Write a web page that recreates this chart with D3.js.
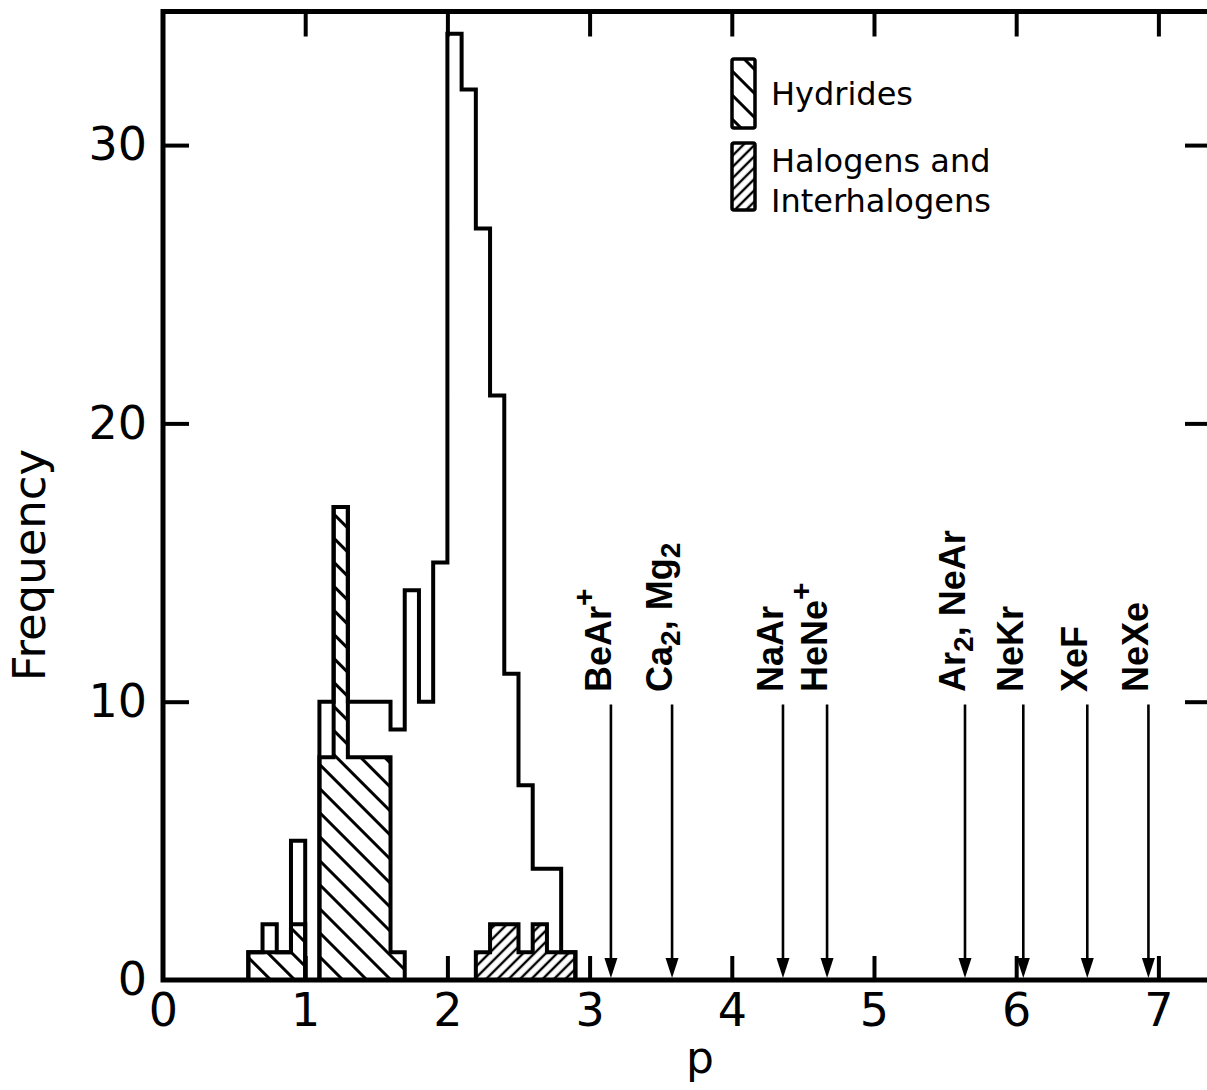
<!DOCTYPE html>
<html>
<head>
<meta charset="utf-8">
<script src="https://cdn.jsdelivr.net/npm/d3@7"></script>
<style>
body { margin: 0; background: #fff; }
</style>
</head>
<body>
<svg id="chart" width="1207" height="1090" viewBox="0 0 1207 1090"></svg>
<script>
// histogram bins (start of each 0.1 wide bin in p)
const binStarts = [0.6, 0.7, 0.8, 0.9, 1.0, 1.1, 1.2, 1.3, 1.4, 1.5, 1.6, 1.7, 1.8, 1.9, 2.0, 2.1, 2.2, 2.3, 2.4, 2.5, 2.6, 2.7, 2.8]
const binWidth = 0.1
const totalCounts   = [1, 2, 1, 5, 0, 10, 17, 10, 10, 10, 9, 14, 10, 15, 34, 32, 27, 21, 11, 7, 4, 4, 1]
const hydrideCounts = [1, 1, 1, 2, 0, 8, 17, 8, 8, 8, 1, 0, 0, 0, 0, 0, 0, 0, 0, 0, 0, 0, 0]
const halogenCounts = [0, 0, 0, 0, 0, 0, 0, 0, 0, 0, 0, 0, 0, 0, 0, 0, 1, 2, 2, 1, 2, 1, 1]

// molecules marked with arrows
const moleculeP = [3.15, 3.58, 4.36, 4.67, 5.64, 6.05, 6.5, 6.93]
const moleculeLabels = [
    [["BeAr", ""], ["+", "sup"]],
    [["Ca", ""], ["2", "sub"], [", Mg", ""], ["2", "sub"]],
    [["NaAr", ""]],
    [["HeNe", ""], ["+", "sup"]],
    [["Ar", ""], ["2", "sub"], [", NeAr", ""]],
    [["NeKr", ""]],
    [["XeF", ""]],
    [["NeXe", ""]]
]

const xTicks = [0, 1, 2, 3, 4, 5, 6, 7]
const yTicks = [0, 10, 20, 30]
const legendNames = ["Hydrides", "Halogens and", "Interhalogens"]

const svg = d3.select("#chart")
const x = d3.scaleLinear().domain([0, 7.37]).range([163, 1211])
const y = d3.scaleLinear().domain([0, 34.8]).range([980, 11.5])

const ink = "#000"
const plainFont = "'DejaVu Sans', sans-serif"
const boldFont = "'Liberation Sans', Arial, sans-serif"

// hatch patterns
const defs = svg.append("defs")
function hatch(id, gap, angle, w){
    defs.append("pattern")
        .attr("id", id)
        .attr("patternUnits", "userSpaceOnUse")
        .attr("width", gap).attr("height", gap)
        .attr("patternTransform", `rotate(${angle})`)
        .append("line")
        .attr("x1", gap/2).attr("x2", gap/2)
        .attr("y1", 0).attr("y2", gap)
        .attr("stroke", ink).attr("stroke-width", w)
}
hatch("hyd", 17, -45, 3)
hatch("hal", 8, 45, 2.4)

// split a series into runs of non-zero bins
function runs(counts){
    let out = [], cur = null
    counts.forEach((c, i) => {
        if(c > 0){
            if(!cur){ cur = []; out.push(cur) }
            cur.push({s: binStarts[i], c: c})
        } else cur = null
    })
    return out
}

const stepArea = d3.area()
    .curve(d3.curveStepAfter)
    .x(d => x(d.s))
    .y0(y(0))
    .y1(d => y(d.c))

const stepLine = d3.line()
    .curve(d3.curveStepAfter)
    .x(d => x(d.s))
    .y(d => y(d.c))

function withEnds(run){
    const last = run[run.length - 1]
    const e = last.s + binWidth
    return [{s: run[0].s, c: 0}].concat(run, [{s: e, c: last.c}, {s: e, c: 0}])
}

const hist = svg.append("g")

// hatched fills first
;[[hydrideCounts, "hyd"], [halogenCounts, "hal"]].forEach(([counts, pat]) => {
    runs(counts).forEach(r => {
        const last = r[r.length - 1]
        hist.append("path")
            .datum(r.concat([{s: last.s + binWidth, c: last.c}]))
            .attr("d", stepArea)
            .attr("fill", `url(#${pat})`)
    })
})

// outlines: total histogram and the inner category steps
;[totalCounts, hydrideCounts, halogenCounts].forEach(counts => {
    runs(counts).forEach(r => {
        hist.append("path")
            .datum(withEnds(r))
            .attr("d", stepLine)
            .attr("fill", "none")
            .attr("stroke", ink)
            .attr("stroke-width", 4)
            .attr("stroke-linejoin", "miter")
    })
})

// frame
const [x0, x1] = x.domain(), [y0, y1] = y.domain()
svg.append("path")
    .attr("d", `M${x(x0)},${y(y0)}V${y(y1)}H${x(x1)}V${y(y0)}Z`)
    .attr("fill", "none")
    .attr("stroke", ink)
    .attr("stroke-width", 5)

// inward ticks with d3 axes
const bottomAxis = svg.append("g")
    .attr("transform", `translate(0,${y(0)})`)
    .call(d3.axisBottom(x).tickValues(xTicks).tickSizeInner(-24).tickSizeOuter(0).tickPadding(13).tickFormat(d3.format("d")))
const topAxis = svg.append("g")
    .attr("transform", `translate(0,${y(y1)})`)
    .call(d3.axisTop(x).tickValues(xTicks.slice(1)).tickSizeInner(-25).tickSizeOuter(0).tickFormat(""))
const leftAxis = svg.append("g")
    .attr("transform", `translate(${x(0)},0)`)
    .call(d3.axisLeft(y).tickValues(yTicks).tickSizeInner(-26).tickSizeOuter(0).tickPadding(16).tickFormat(d3.format("d")))
const rightAxis = svg.append("g")
    .attr("transform", `translate(${x(x1)},0)`)
    .call(d3.axisRight(y).tickValues(yTicks.slice(1)).tickSizeInner(-26).tickSizeOuter(0).tickFormat(""))

;[bottomAxis, topAxis, leftAxis, rightAxis].forEach(g => {
    g.select(".domain").remove()
    g.selectAll(".tick line").attr("stroke", ink).attr("stroke-width", 4)
    g.selectAll(".tick text")
        .attr("fill", ink)
        .style("font-family", plainFont)
        .style("font-size", "46px")
})
bottomAxis.selectAll(".tick").filter(d => d === 0).select("line").remove()
leftAxis.selectAll(".tick").filter(d => d === 0).select("line").remove()

// axis titles
svg.append("text")
    .attr("x", 700).attr("y", 1073)
    .attr("text-anchor", "middle")
    .style("font-family", plainFont).style("font-size", "44px")
    .text("p")

svg.append("text")
    .attr("transform", "translate(45,565) rotate(-90)")
    .attr("text-anchor", "middle")
    .style("font-family", plainFont).style("font-size", "45px")
    .text("Frequency")

// arrows for individual molecules
const arrowTop = 9.9, labelStart = 10.35
const arrows = svg.append("g")
moleculeP.forEach((p, i) => {
    const ax = x(p)
    arrows.append("line")
        .attr("x1", ax).attr("x2", ax)
        .attr("y1", y(arrowTop)).attr("y2", y(0) - 18)
        .attr("stroke", ink).attr("stroke-width", 2.6)
    arrows.append("path")
        .attr("d", `M${ax - 6.5},${y(0) - 22}L${ax + 6.5},${y(0) - 22}L${ax},${y(0) - 2}Z`)
        .attr("fill", ink)

    const t = arrows.append("text")
        .attr("transform", `translate(${ax},${y(labelStart)}) rotate(-90)`)
        .attr("dy", "0.36em")
        .style("font-family", boldFont)
        .style("font-weight", "bold")
        .style("font-size", "36px")
    moleculeLabels[i].forEach(([txt, kind]) => {
        const s = t.append("tspan").text(txt)
        if(kind === "sub") s.attr("dy", "0.3em").style("font-size", "28px")
        else if(kind === "sup") s.attr("dy", "-0.55em").style("font-size", "30px")
        else s.attr("dy", 0)
    })
    // put baseline back after a sub/superscript
    t.selectAll("tspan").each(function(d, j, nodes){
        const kind = moleculeLabels[i][j][1]
        const prev = j > 0 ? moleculeLabels[i][j - 1][1] : ""
        if(kind === "" && prev === "sub") d3.select(this).attr("dy", "-0.24em")
    })
})

// legend
const legend = svg.append("g")
legend.append("rect")
    .attr("x", 732).attr("y", 59).attr("width", 23).attr("height", 69).attr("rx", 2)
    .attr("fill", "url(#hyd)").attr("stroke", ink).attr("stroke-width", 3.5)
legend.append("rect")
    .attr("x", 732).attr("y", 143).attr("width", 23).attr("height", 67).attr("rx", 2)
    .attr("fill", "url(#hal)").attr("stroke", ink).attr("stroke-width", 3.5)
legend.selectAll(".ltext")
    .data(legendNames)
    .enter()
    .append("text")
    .attr("x", 771)
    .attr("y", (d, i) => [105, 172, 212][i])
    .style("font-family", plainFont)
    .style("font-size", "32px")
    .text(d => d)
</script>
</body>
</html>
